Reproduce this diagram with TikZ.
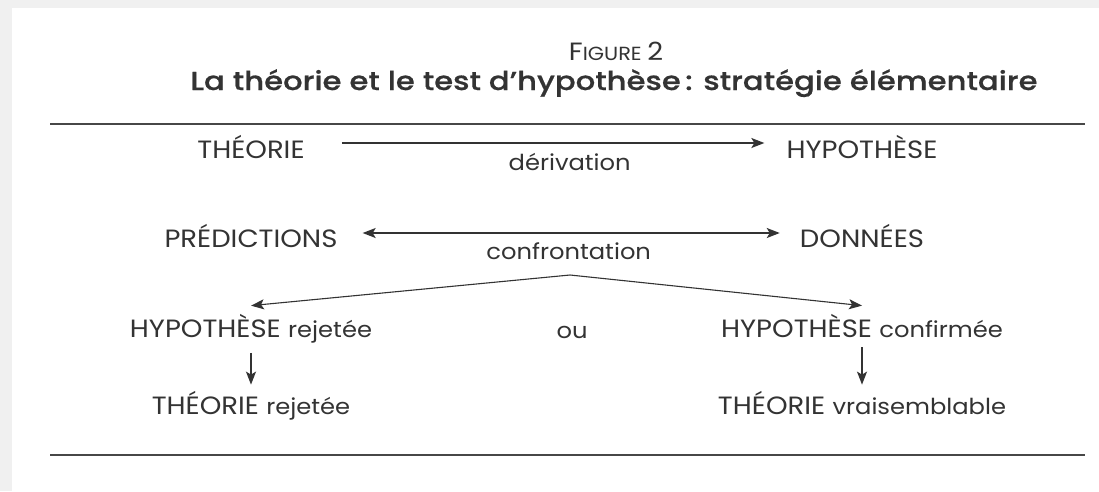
\documentclass[tikz,border=0pt]{standalone}
\usepackage{fontspec}
\setmainfont[FakeStretch=1.1]{Poppins}
\newfontfamily\titrefont[FakeStretch=1.18, FakeBold=0.6]{Poppins Medium}
\usetikzlibrary{arrows.meta,positioning}
\definecolor{ink}{HTML}{333333}
\definecolor{edge}{HTML}{F0F0F0}
\newcommand\bas[1]{{\fontsize{22}{24}\selectfont #1}}
\begin{document}
\begin{tikzpicture}[x=1pt, y=-1pt, every node/.style={inner sep=0pt, anchor=base, text=ink, font=\fontsize{25}{28}\selectfont},
  lbl/.style={font=\fontsize{22}{24}\selectfont},
  fleche/.style={draw=ink, line width=1.6pt, -{Stealth[length=13pt, width=10pt, inset=3pt]}},
  regle/.style={draw=ink!90, line width=2.6pt}]
  \useasboundingbox (0,0) rectangle (1099,491);
  \fill[edge] (0,0) rectangle (1099,491);
  \fill[white] (12,8) rectangle (1099,491);

  % titre
  \node (fig) at (616,60) {\fontsize{25}{28}\selectfont F\fontsize{19}{21}\selectfont IGURE \fontsize{25}{28}\selectfont 2};
  \node (titre) at (614,90) {\titrefont\fontsize{26}{28}\selectfont La théorie et le test d’hypothèse\,: stratégie élémentaire};
  \coordinate (r1a) at (50,124);
  \coordinate (r1b) at (1085,124);
  \draw[regle] (r1a) -- (r1b);

  \node (theo) at (251,158) {THÉORIE};
  \node (hyp) at (862,158) {HYPOTHÈSE};
  \node (pred) at (251,247) {PRÉDICTIONS};
  \node (donn) at (862,247) {DONNÉES};
  \draw[fleche, shorten <=37pt, shorten >=22pt] ([yshift=15pt]theo.base east) -- node[lbl, below=9pt, pos=.55] (deriv) {dérivation} ([yshift=15pt]hyp.base west);
  \draw[fleche, {Stealth[length=13pt, width=10pt, inset=3pt]}-{Stealth[length=13pt, width=10pt, inset=3pt]}, shorten <=25pt, shorten >=20pt] ([yshift=14pt]pred.base east) -- node[lbl, below=9pt] (confr) {confrontation} ([yshift=14pt]donn.base west);

  % issue du test
  \coordinate (sommet) at (570,275);
  \node (hrej) at (251,337) {HYPOTHÈSE \bas{rejetée}};
  \node (ou) at (572,338) {\bas{ou}};
  \node (hconf) at (862,337) {HYPOTHÈSE \bas{confirmée}};
  \node (trej) at (251,414) {THÉORIE \bas{rejetée}};
  \node (tvrai) at (862,414) {THÉORIE \bas{vraisemblable}};
  \draw[fleche, line width=1.1pt] (sommet) -- ([yshift=8pt]hrej.north);
  \draw[fleche, line width=1.1pt] (sommet) -- ([yshift=8pt]hconf.north);
  \draw[fleche] ([yshift=-10pt]hrej.south) -- ([yshift=6pt]trej.north);
  \draw[fleche] ([yshift=-10pt]hconf.south) -- ([yshift=6pt]tvrai.north);

  \coordinate (r2a) at (50,455);
  \coordinate (r2b) at (1085,455);
  \draw[regle] (r2a) -- (r2b);
\end{tikzpicture}
\end{document}
